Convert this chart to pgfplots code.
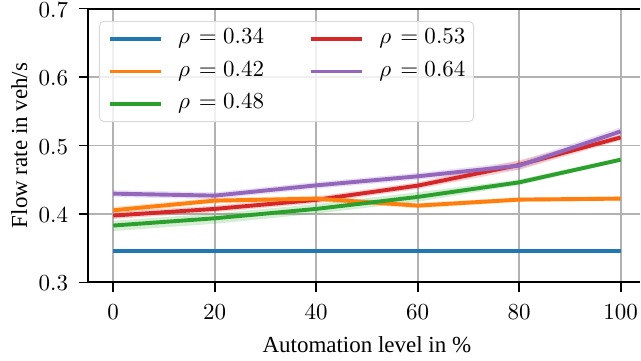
\documentclass[border=0pt]{standalone}
\usepackage{fontspec}
\setmainfont{Liberation Serif}
\usepackage{pgfplots}
\pgfplotsset{compat=1.18}
\definecolor{c0}{HTML}{1F77B4}
\definecolor{c1}{HTML}{FF7F0E}
\definecolor{c2}{HTML}{2CA02C}
\definecolor{c3}{HTML}{D62728}
\definecolor{c4}{HTML}{9467BD}
\begin{document}
\begin{tikzpicture}
\begin{axis}[
  scale only axis, width=240.3pt, height=119.3pt,
  xmin=-4.92, xmax=103.8, ymin=0.3, ymax=0.7,
  axis x line*=box, axis y line*=left,
  xtick={0,20,40,60,80,100}, ytick={0.3,0.4,0.5,0.6,0.7},
  yticklabel style={/pgf/number format/fixed, /pgf/number format/precision=1, /pgf/number format/fixed zerofill, inner ysep=1pt, inner xsep=4.4pt, yshift=-0.5pt},
  xticklabel style={inner ysep=5.2pt, inner xsep=0pt},
  tick pos=left, tick align=outside, major tick length=4.2pt,
  tick style={black, line width=0.8pt},
  axis line style={black, line width=0.9pt},
  grid=major, grid style={color=black!30, line width=0.85pt},
  xlabel={Automation level in \%}, ylabel={Flow rate in veh/s},
  xlabel style={at={(axis description cs:0.505,-0.2565)}, anchor=base, inner ysep=3.3pt},
  ylabel style={at={(axis description cs:-0.1107,0.5)}, anchor=base, inner ysep=4.9pt},
  legend columns=2, legend cell align=left,
  legend image code/.code={\draw[#1] (0pt,0pt) -- (22.2pt,0pt);},
  legend style={at={(axis description cs:0.0194,0.9545)}, anchor=north west,
    draw=black!15, rounded corners=2pt, fill=white, fill opacity=0.8, text opacity=1,
    row sep=4pt, inner xsep=3.6pt, inner ysep=2.8pt,
    nodes={inner xsep=0pt, inner ysep=0pt, text height=7pt, text depth=3pt},
    /tikz/every odd column/.append style={column sep=6.8pt},
    /tikz/every even column/.append style={column sep=19.6pt}},
  every axis plot/.append style={line width=1.7pt},
]
% bands
\addplot[forget plot, draw=none, fill=c1, fill opacity=0.2] coordinates {(0,0.4104)(20,0.4235)(40,0.4264)(60,0.4162)(80,0.4245)(100,0.4259)(100,0.4189)(80,0.4175)(60,0.4082)(40,0.4184)(20,0.4155)(0,0.4004)};
\addplot[forget plot, draw=none, fill=c2, fill opacity=0.2] coordinates {(0,0.3901)(20,0.4007)(40,0.4144)(60,0.4319)(80,0.4502)(100,0.4823)(100,0.4763)(80,0.4422)(60,0.4179)(40,0.4004)(20,0.3857)(0,0.3751)};
\addplot[forget plot, draw=none, fill=c3, fill opacity=0.2] coordinates {(0,0.4027)(20,0.4124)(40,0.4256)(60,0.4464)(80,0.4786)(100,0.5158)(100,0.5078)(80,0.4646)(60,0.4364)(40,0.4156)(20,0.4024)(0,0.3927)};
\addplot[forget plot, draw=none, fill=c4, fill opacity=0.2] coordinates {(0,0.4347)(20,0.4318)(40,0.4468)(60,0.4600)(80,0.4766)(100,0.5266)(100,0.5146)(80,0.4646)(60,0.4500)(40,0.4368)(20,0.4218)(0,0.4247)};
% lines (ordered for row-wise legend)
\addplot[c0] coordinates {(0,0.346)(20,0.346)(40,0.346)(60,0.346)(80,0.346)(100,0.346)};
\addlegendentry{$\rho\mkern2mu=0.34$}
\addplot[c3] coordinates {(0,0.3977)(20,0.4074)(40,0.4206)(60,0.4414)(80,0.4716)(100,0.5118)};
\addlegendentry{$\rho\mkern2mu=0.53$}
\addplot[c1] coordinates {(0,0.4054)(20,0.4195)(40,0.4224)(60,0.4122)(80,0.4210)(100,0.4224)};
\addlegendentry{$\rho\mkern2mu=0.42$}
\addplot[c4] coordinates {(0,0.4297)(20,0.4268)(40,0.4418)(60,0.4550)(80,0.4706)(100,0.5206)};
\addlegendentry{$\rho\mkern2mu=0.64$}
\addplot[c2] coordinates {(0,0.3831)(20,0.3937)(40,0.4074)(60,0.4249)(80,0.4462)(100,0.4793)};
\addlegendentry{$\rho\mkern2mu=0.48$}
\end{axis}
\end{tikzpicture}
\end{document}
